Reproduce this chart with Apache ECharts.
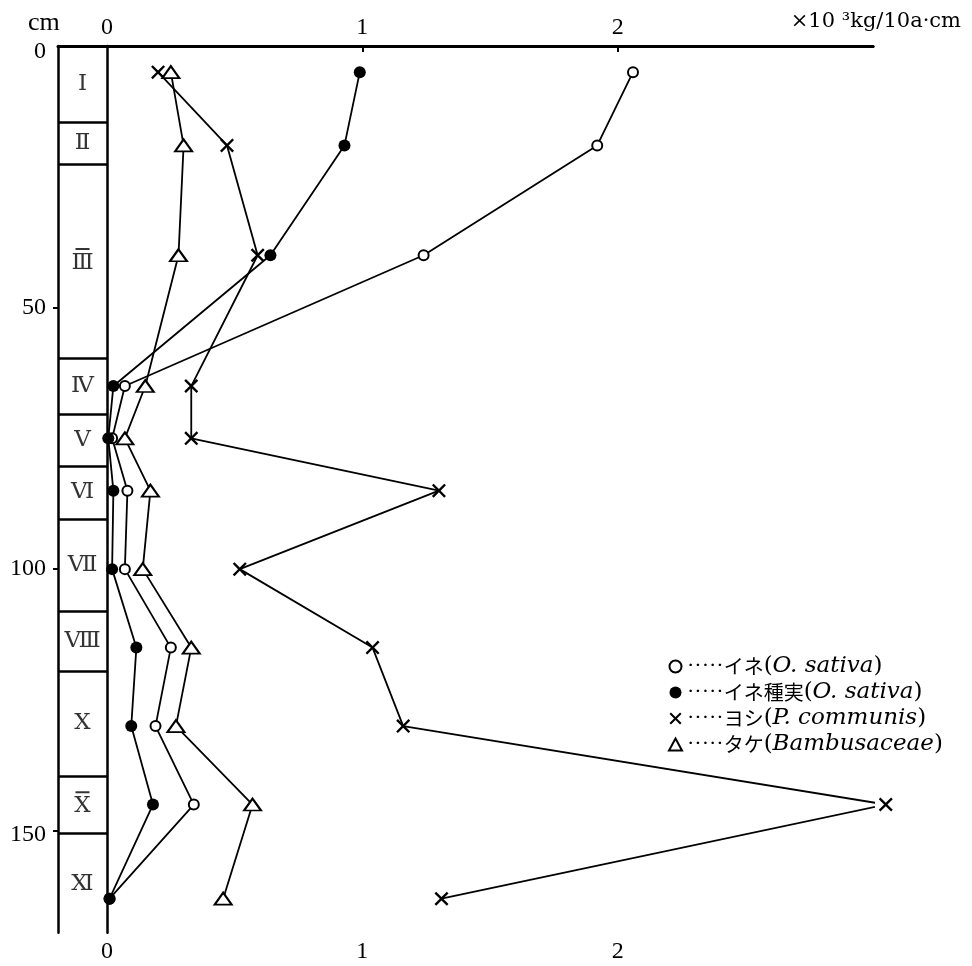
<!DOCTYPE html>
<html>
<head>
<meta charset="utf-8">
<script src="https://cdn.jsdelivr.net/npm/echarts@6/dist/echarts.min.js"></script>
<style>html,body{margin:0;padding:0;background:#fff;}#c{width:972px;height:966px;}</style>
</head>
<body>
<div id="c"></div>
<script>
// ---- data ----
var depths = [5, 19, 40, 65, 75, 85, 100, 115, 130, 145, 163];
var ine = [2.06, 1.92, 1.24, 0.07, 0.02, 0.08, 0.07, 0.25, 0.19, 0.34, 0.01];
var ineSeed = [0.99, 0.93, 0.64, 0.025, 0.005, 0.025, 0.02, 0.115, 0.095, 0.18, 0.01];
var yoshi = [0.20, 0.47, 0.59, 0.33, 0.33, 1.30, 0.52, 1.04, 1.16, 3.05, 1.31];
var take = [0.25, 0.30, 0.28, 0.15, 0.07, 0.17, 0.14, 0.33, 0.27, 0.57, 0.455];

var seriesNames = ['イネ', 'イネ種実', 'ヨシ', 'タケ'];
var latinNames = ['O. sativa', 'O. sativa', 'P. communis', 'Bambusaceae'];

var layerNames = ['Ⅰ', 'Ⅱ', 'Ⅲ', 'Ⅳ', 'Ⅴ', 'Ⅵ', 'Ⅶ', 'Ⅷ', 'Ⅹ', 'Ⅹ', 'Ⅺ'];
var layerOverbar = [false, false, true, false, false, false, false, false, false, true, false];
var layerTops = [0, 14.5, 22.6, 59.6, 70.4, 80.3, 90.4, 108.1, 119.5, 139.5, 150.4];
var layerBottoms = [14.5, 22.6, 59.6, 70.4, 80.3, 90.4, 108.1, 119.5, 139.5, 150.4, 170];

var xTicks = [0, 1, 2];
var yTicks = [0, 50, 100, 150];
var unitText = '×10 ³kg/10a·cm';
var depthUnit = 'cm';

// ---- build ----
function pairs(xs) { return xs.map(function (v, i) { return [v, depths[i]]; }); }
var X_PATH = 'path://M0,1.2L1.2,0L5,3.8L8.8,0L10,1.2L6.2,5L10,8.8L8.8,10L5,6.2L1.2,10L0,8.8L3.8,5Z';
var serif = 'Liberation Serif';
var yMax = 169.5;

var layerLabels = layerNames.map(function (n, i) {
  return { value: [0.5, (layerTops[i] + layerBottoms[i]) / 2], name: n, bar: layerOverbar[i] };
});
var boundaries = layerTops.slice(1).map(function (t) { return { yAxis: t }; });

var baseLine = { color: '#000', width: 1.8 };
var chart = echarts.init(document.getElementById('c'));
chart.setOption({
  animation: false,
  backgroundColor: '#fff',
  title: [
    { text: unitText, right: 6, top: 6, textStyle: { fontFamily: 'DejaVu Serif', fontSize: 21, fontWeight: 'normal', color: '#000' } },
    { text: depthUnit, left: 23, top: 5, textStyle: { fontFamily: serif, fontSize: 26, fontWeight: 'normal', color: '#000' } }
  ],
  grid: [
    { left: 107, width: 766, top: 46, height: 886.7 },
    { left: 58, width: 49, top: 46, height: 886.7 }
  ],
  xAxis: [
    { gridIndex: 0, type: 'value', position: 'bottom', min: 0, max: 3,
      axisLine: { show: true, lineStyle: { color: '#000', width: 3 } },
      axisTick: { show: true, customValues: [1, 2], length: 6, lineStyle: { color: '#000', width: 2 } },
      axisLabel: { customValues: xTicks, color: '#000', fontFamily: serif, fontSize: 24, margin: 7 },
      splitLine: { show: false } },
    { gridIndex: 0, type: 'value', position: 'top', min: 0, max: 3,
      axisLine: { show: true, lineStyle: { color: '#000', width: 3 } },
      axisTick: { show: true, inside: true, customValues: [1, 2], length: 6, lineStyle: { color: '#000', width: 2 } },
      axisLabel: { customValues: xTicks, color: '#000', fontFamily: serif, fontSize: 24, margin: 6 },
      splitLine: { show: false } },
    { gridIndex: 1, type: 'value', position: 'top', min: 0, max: 1,
      axisLine: { show: true, lineStyle: { color: '#000', width: 3 } },
      axisTick: { show: false }, axisLabel: { show: false }, splitLine: { show: false } }
  ],
  yAxis: [
    { gridIndex: 0, type: 'value', inverse: true, min: 0, max: yMax,
      axisLine: { show: true, lineStyle: { color: '#000', width: 2.5 } },
      axisTick: { show: false }, axisLabel: { show: false }, splitLine: { show: false } },
    { gridIndex: 1, type: 'value', inverse: true, min: 0, max: yMax, position: 'left',
      axisLine: { show: true, lineStyle: { color: '#000', width: 2.5 } },
      axisTick: { show: true, customValues: [50, 100, 150], length: 5, lineStyle: { color: '#000', width: 2 } },
      axisLabel: { customValues: yTicks, color: '#000', fontFamily: serif, fontSize: 24, margin: 12,
        formatter: function (v) { return v === 0 ? '{z|0}' : (v === 150 ? '{f|150}' : String(v)); },
        rich: { z: { fontFamily: serif, fontSize: 24, padding: [12, 0, 0, 0] },
                f: { fontFamily: serif, fontSize: 24, padding: [8, 0, 0, 0] } } },
      splitLine: { show: false } }
  ],
  legend: {
    orient: 'vertical', left: 663, top: 650, itemWidth: 13, itemHeight: 12, itemGap: 3,
    selectedMode: false,
    data: [
      { name: seriesNames[0], icon: 'circle', itemStyle: { color: '#fff', borderColor: '#000', borderWidth: 2 } },
      { name: seriesNames[1], icon: 'circle', itemStyle: { color: '#000' } },
      { name: seriesNames[2], icon: X_PATH, itemStyle: { color: '#000' } },
      { name: seriesNames[3], icon: 'triangle', itemStyle: { color: '#fff', borderColor: '#000', borderWidth: 2 } }
    ],
    formatter: function (name) {
      var i = seriesNames.indexOf(name);
      return '{d|·····}{j|' + name + '}{l|(}{i|' + latinNames[i] + '}{l|)}';
    },
    textStyle: {
      color: '#000', lineHeight: 20,
      rich: {
        d: { fontFamily: serif, fontSize: 22, lineHeight: 20, color: '#000' },
        j: { fontFamily: 'Noto Sans CJK JP', fontSize: 20, lineHeight: 20, color: '#000' },
        l: { fontFamily: 'DejaVu Serif', fontSize: 23, lineHeight: 20, color: '#000' },
        i: { fontFamily: 'DejaVu Serif', fontStyle: 'italic', fontSize: 23, lineHeight: 20, color: '#000' }
      }
    }
  },
  series: [
    { name: seriesNames[0], type: 'line', xAxisIndex: 0, yAxisIndex: 0, data: pairs(ine), clip: false,
      symbol: 'emptyCircle', symbolSize: 10, lineStyle: baseLine,
      itemStyle: { color: '#000', borderColor: '#000', borderWidth: 2 }, z: 3 },
    { name: seriesNames[1], type: 'line', xAxisIndex: 0, yAxisIndex: 0, data: pairs(ineSeed), clip: false,
      symbol: 'circle', symbolSize: 12, lineStyle: baseLine,
      itemStyle: { color: '#000' }, z: 4 },
    { name: seriesNames[2], type: 'line', xAxisIndex: 0, yAxisIndex: 0, data: pairs(yoshi), clip: false,
      symbol: X_PATH, symbolSize: 14, lineStyle: baseLine,
      itemStyle: { color: '#000', borderWidth: 0 }, z: 3 },
    { name: seriesNames[3], type: 'line', xAxisIndex: 0, yAxisIndex: 0, data: pairs(take), clip: false,
      symbol: 'emptyTriangle', symbolSize: [17, 12], lineStyle: baseLine,
      itemStyle: { color: '#000', borderColor: '#000', borderWidth: 2 }, z: 3 },
    { name: 'layers', type: 'scatter', xAxisIndex: 2, yAxisIndex: 1, data: layerLabels,
      symbolSize: 0, silent: true,
      label: { show: true, position: 'inside',
        formatter: function (p) { return p.data.bar ? '{o| }\n{n|' + p.name + '}' : '{n|' + p.name + '}'; },
        rich: {
          o: { width: 14, height: 2, lineHeight: 4, fontSize: 2, backgroundColor: '#000' },
          n: { fontFamily: 'DejaVu Serif', fontSize: 23, lineHeight: 24, color: '#000' }
        } },
      markLine: { silent: true, symbol: ['none', 'none'], label: { show: false },
        lineStyle: { color: '#000', width: 2.5, type: 'solid' }, data: boundaries }
    }
  ]
});
</script>
</body>
</html>
